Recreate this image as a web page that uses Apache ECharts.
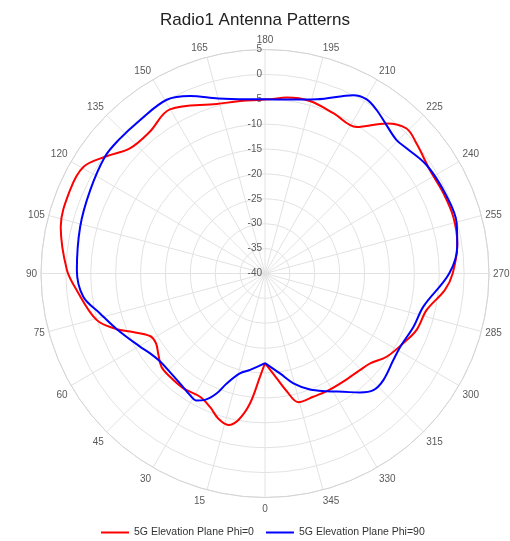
<!DOCTYPE html>
<html>
<head>
<meta charset="utf-8">
<script src="https://cdn.jsdelivr.net/npm/echarts@6/dist/echarts.min.js"></script>
<style>
  html, body { margin: 0; padding: 0; background: #fff; }
  #chart { width: 510px; height: 541px; }
</style>
</head>
<body>
<div id="chart"></div>
<script>
// angle in degrees (0 at bottom, clockwise), gain in dB
const redAngles = [0, 2.8, 6.6, 10.3, 13.6, 17.9, 22.4, 27.8, 35.4, 42.6, 48, 53.2, 57.4, 61.5, 66.7, 69.4, 74.6, 85, 91, 102.9,
  113.1, 120.4, 126.5, 132.8, 140.9, 149.9, 164.1, 172.8, 181.6, 187, 194.6, 203.1, 212, 219, 224.3, 229.4, 237.9, 245.8,
  253.3, 261.1, 270, 275.2, 282.7, 290.4, 296.8, 304.4, 310.5, 315.5, 324.1, 332.3, 338.6, 345.5, 349.6, 353.6, 360];
const redGain = [-22, -19.2, -13.7, -10.1, -8.7, -9.4, -11.0, -12.0, -11.7, -11.8, -12.0, -13.2, -14.0, -13.7, -10.5, -8.2, -4.9, -2.0, -0.2, 2.1,
  2.6, 2.3, -0.4, -3.0, -3.3, -1.9, -4.6, -5.0, -5.0, -4.4, -4.2, -5.0, -5.3, -1.2, 0.7, 0.1, -0.9, -0.7,
  -0.5, -0.9, -2.3, -3.7, -6.7, -7.5, -8.9, -10.4, -12.2, -12.8, -13.2, -13.3, -13.4, -13.3, -16.0, -18.8, -22];

const blueAngles = [0, 8.8, 14.1, 19.2, 22.0, 25.4, 28.3, 31.7, 36.8, 44.1, 50.0, 55.2, 59.7, 69.4, 76.4, 82.7, 91, 104.2, 115.5,
  126.1, 132.3, 140.8, 150.5, 157.1, 165, 174, 180, 187, 196.5, 206.4, 210.3, 214.4, 219.4, 224.6, 228.6, 236.2, 246,
  255.4, 262, 270, 281.8, 289.7, 298.5, 304, 312, 317.1, 321.4, 326.5, 332.3, 338.8, 345.5, 351.5, 360];
const blueGain = [-22, -20.4, -19.3, -16.6, -14.0, -11.9, -11.0, -11.3, -12.0, -12.5, -12.5, -11.9, -10.9, -8.2, -5.9, -3.2, -2.2, -1.7, -1.1,
  -0.2, -0.2, -0.25, 0.1, -1.3, -3.6, -4.8, -5.0, -4.8, -3.5, 0.0, 0.5, -0.25, -1.5, -2.35, -2.0, -0.9, -0.4,
  -0.2, -1.0, -3.0, -7.5, -8.3, -9.1, -8.9, -8.0, -8.0, -9.4, -11.5, -13.3, -15.0, -17.2, -19.7, -22];

const seriesNames = ['5G Elevation Plane Phi=0', '5G Elevation Plane Phi=90'];
const radiusMin = -40, radiusMax = 5, radiusStep = 5;
const angleStep = 15;

// axis runs 180..540 so that 180 sits at the top and the radius labels go upward
const toAxis = a => (a < 180 ? a + 360 : a);
const pairs = (angles, gains) => angles.map((a, i) => [gains[i], toAxis(a)]);

const chart = echarts.init(document.getElementById('chart'), null, { renderer: 'canvas' });

const gridColor = '#e2e2e2';
const labelColor = '#595959';
const lbl = (pad) => ({ color: labelColor, fontSize: 10, padding: pad });

// small nudges so the angle labels sit like the original ones
function angleLabel(v) {
  if (v === 540) return '';
  const d = v % 360;
  if (d === 165) return '{l|' + d + '}';
  if (d === 195) return '{r|' + d + '}';
  if (d === 15) return '{bl|' + d + '}';
  if (d === 345) return '{br|' + d + '}';
  if ((d >= 75 && d <= 105) || (d >= 255 && d <= 285)) return '{m|' + d + '}';
  if (d <= 60 || d >= 300) return '{b|' + d + '}';
  return String(d);
}

chart.setOption({
  animation: false,
  textStyle: { fontFamily: '"Liberation Sans", Arial, sans-serif' },
  title: {
    text: 'Radio1 Antenna Patterns',
    left: 'center',
    top: 7,
    textStyle: { fontSize: 17, fontWeight: 'normal', color: '#222' }
  },
  legend: {
    data: seriesNames,
    top: 522,
    left: 96,
    icon: 'rect',
    itemWidth: 28,
    itemHeight: 2,
    itemGap: 12,
    textStyle: { fontSize: 10.5, color: '#333' }
  },
  polar: { center: [265, 273.5], radius: 224 },
  angleAxis: {
    type: 'value',
    startAngle: 90,
    clockwise: true,
    min: 180,
    max: 540,
    interval: angleStep,
    axisLine: { lineStyle: { color: '#d4d4d4' } },
    axisTick: { show: false },
    axisLabel: {
      color: labelColor,
      fontSize: 10,
      margin: 4,
      formatter: angleLabel,
      rich: {
        l: lbl([0, 13, 0, 0]),
        r: lbl([0, 0, 0, 14]),
        b: lbl([3, 0, 0, 0]),
        bl: lbl([3, 13, 0, 0]),
        br: lbl([3, 0, 0, 14]),
        m: lbl([2, 0, 0, 0])
      }
    },
    splitLine: { show: true, lineStyle: { color: gridColor } }
  },
  radiusAxis: {
    type: 'value',
    min: radiusMin,
    max: radiusMax,
    interval: radiusStep,
    axisLine: { show: false },
    axisTick: { show: false },
    axisLabel: { color: labelColor, fontSize: 10, margin: 3, padding: [5, 0, 0, 0] },
    splitLine: { show: true, lineStyle: { color: gridColor } }
  },
  series: [
    {
      name: seriesNames[0],
      type: 'line',
      coordinateSystem: 'polar',
      symbol: 'none',
      smooth: 0.35,
      color: '#ff0000',
      lineStyle: { width: 2, color: '#ff0000' },
      data: pairs(redAngles, redGain)
    },
    {
      name: seriesNames[1],
      type: 'line',
      coordinateSystem: 'polar',
      symbol: 'none',
      smooth: 0.35,
      color: '#0000ff',
      lineStyle: { width: 2, color: '#0000ff' },
      data: pairs(blueAngles, blueGain)
    }
  ]
});
</script>
</body>
</html>
